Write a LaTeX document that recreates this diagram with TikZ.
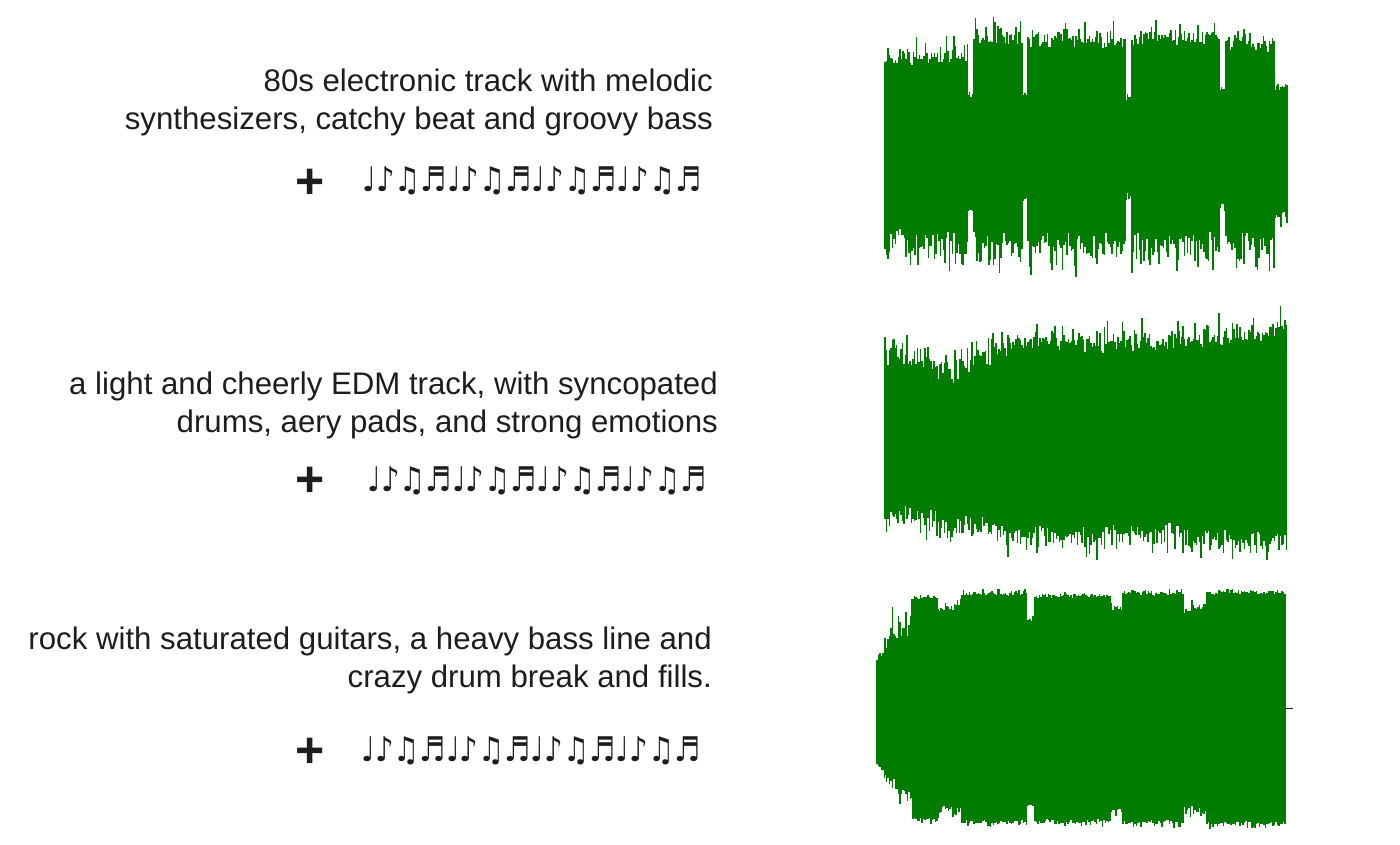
\documentclass[tikz,border=0pt]{standalone}
\usepackage{fontspec}
\usepackage{graphicx}
\setmainfont{Liberation Sans}
\newfontfamily\notefont{DejaVu Sans}
\definecolor{wavegreen}{RGB}{0,125,0}
\definecolor{ink}{RGB}{28,30,28}
\newcommand{\tune}{\scalebox{0.86}[1]{♩♪♫♬♩♪♫♬♩♪♫♬♩♪♫♬}}

\begin{document}
\begin{tikzpicture}[
  x=1pt, y=-1pt,
  prompt/.style={anchor=north east, align=right, inner sep=0pt, text=ink, font=\fontsize{31.2}{37.5}\selectfont},
  notes/.style={anchor=base east, inner sep=0pt, text=ink, font=\notefont\fontsize{34}{34}\selectfont},
  plus/.style={inner sep=0pt, text=ink, font=\bfseries\fontsize{50}{50}\selectfont},
  wave/.style={draw=wavegreen, line width=1.2pt},
  body/.style={fill=wavegreen}
]
\useasboundingbox (0,0) rectangle (1400,845);
\pgfmathsetseed{42}

\node[prompt] (p1) at (713,69) {80s electronic track with melodic\\synthesizers, catchy beat and groovy bass};
\node[notes] (n1) at (702,192) {\tune};
\node[plus] (plus1) at (310,184) {+};

\node[prompt] (p2) at (718,372) {a light and cheerly EDM track, with syncopated\\drums, aery pads, and strong emotions};
\node[notes] (n2) at (707,491) {\tune};
\node[plus] (plus2) at (310,482) {+};

\node[prompt] (p3) at (712,627) {rock with saturated guitars, a heavy bass line and\\crazy drum break and fills.};
\node[notes] (n3) at (701,761) {\tune};
\node[plus] (plus3) at (310,753) {+};

\foreach \a/\b/\ta/\tb/\ba/\bb/\s/\r in {
  885/968/66/64/228/230/28/48, 968/974/100/100/205/205/10/14,
  974/1022/46/46/232/232/30/48, 1022/1028/97/97/195/195/10/14,
  1028/1126/48/48/232/232/28/48, 1126/1132/100/100/192/192/10/14,
  1132/1220/46/46/232/232/28/48, 1220/1226/94/94/202/202/10/14,
  1226/1275/50/54/230/230/28/42, 1275/1287/92/92/212/212/12/16,
  885/895/370/366/498/503/40/40, 895/960/366/386/503/512/40/38,
  960/1010/380/356/512/522/38/36, 1010/1100/352/356/522/527/36/34,
  1100/1180/356/350/522/522/36/34, 1180/1287/350/340/526/532/34/32,
  877/885/662/655/758/768/16/16, 885/913/655/635/768/790/48/30,
  913/938/600/600/817/817/8/8, 938/962/614/608/805/808/14/14,
  962/1027/596/596/820/820/8/8, 1027/1035/622/622/802/802/12/12,
  1035/1110/598/598/819/819/8/8, 1110/1123/610/610/807/807/12/12,
  1123/1183/596/596/820/820/8/8, 1183/1207/616/608/802/810/14/14,
  1207/1285/595/595/821/821/8/8}{
  \fill[body] (\a,\ta+12) -- (\b,\tb+12) -- (\b,\bb-12) -- (\a,\ba-12) -- cycle;
  \pgfmathsetmacro\nxt{\a+1.5}
  \foreach \x in {\a,\nxt,...,\b}{
    \pgfmathsetmacro\f{(\x-\a)/(\b-\a)}
    \pgfmathsetmacro\yt{\ta+(\tb-\ta)*\f-\s*(0.6*pow(rnd,3)+0.45*rnd)}
    \pgfmathsetmacro\yb{\ba+(\bb-\ba)*\f+\r*(0.6*pow(rnd,3)+0.45*rnd)}
    \draw[wave] (\x,\yt) -- (\x,\yb);
  }
}
\draw[ink, line width=0.8pt] (1285,708) -- (1293,708);
\end{tikzpicture}
\end{document}
